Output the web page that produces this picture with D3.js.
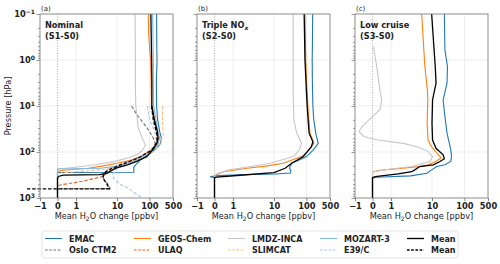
<!DOCTYPE html>
<html>
<head>
<meta charset="utf-8">
<script src="https://cdn.jsdelivr.net/npm/d3@7"></script>
<style>
body { margin: 0; background: #fff; }
text { font-family: "DejaVu Sans", sans-serif; fill: #222; }
.tickLabel { font-weight: bold; font-size: 8.3px; }
.axisTitle { font-size: 8.2px; }
.panelTitle { font-weight: bold; font-size: 8.2px; }
.legendText { font-weight: bold; font-size: 8px; }
</style>
</head>
<body>
<script>
// x axis ticks (ppbv) and pressure decades (hPa)
var xTicks = [-1, 0, 1, 10, 100, 500];
var xTickLabels = ["\u22121", "0", "1", "10", "100", "500"];
var pDecades = [0.1, 1, 10, 100, 1000];
var pExponents = ["\u22121", "0", "1", "2", "3"];

var models = ["EMAC", "Oslo CTM2", "GEOS-Chem", "ULAQ", "LMDZ-INCA", "SLIMCAT", "MOZART-3", "E39/C", "Mean", "Mean"];

// [pressure hPa, mean H2O change ppbv] -- S1-S0 nominal
var s1EMAC = [[0.1,163],[0.5,165],[1,168],[3,160],[10,163],[20,175],[35,200],[50,225],[65,215],[80,170],[100,120],[125,75],[150,52],[180,40],[215,33],[275,33],[278,0],[1000,0]];
var s1Oslo = [[10,28],[15,40],[22,60],[30,85],[40,110],[55,140],[70,150],[90,120],[120,60],[150,28],[190,12],[240,6],[300,4.5],[370,4.6],[480,5.8],[615,6.8],[630,6.8],[632,0]];
var s1GEOS = [[0.1,92],[0.3,95],[1,108],[3,112],[10,115],[20,135],[35,170],[50,190],[65,170],[90,120],[120,60],[150,28],[176,10],[205,4],[225,2],[240,0.8],[250,0.3],[265,0],[1000,0]];
var s1ULAQ = [[10,120],[20,140],[40,170],[60,160],[80,130],[100,90],[140,40],[190,15],[260,7],[350,4],[430,1.5],[520,0.15],[540,0]];
var s1LMDZ = [[0.1,36],[1,37],[5,37],[10,38],[30,45],[50,60],[70,75],[90,62],[110,45],[130,25],[160,9],[190,3],[215,1],[228,0.2],[235,0],[1000,0]];
var s1SLIMCAT = [[10,250],[20,240],[40,260],[60,220],[90,150],[130,70],[160,40],[200,16],[240,5],[265,1.2],[285,0.2],[300,0]];
var s1MOZART = [[0.1,124],[1,130],[3,130],[10,133],[30,170],[50,200],[70,175],[100,110],[150,40],[200,12],[225,4],[232,1],[235,0],[1000,0]];
var s1E39C = [[10,87],[20,100],[35,140],[50,160],[70,150],[100,100],[140,40],[180,18],[230,10],[300,8],[370,8.2],[500,12],[610,22],[850,42],[1000,62]];
var s1Mean = [[0.1,110],[1,116],[3,118],[10,118],[20,140],[35,170],[50,180],[65,165],[90,125],[126,82],[160,40],[190,21],[225,9.3],[290,5.6],[310,3.8],[318,0.3],[340,0.05],[370,0],[1000,0]];
var s1MeanDash = [[10,115],[20,130],[40,165],[60,170],[90,120],[130,50],[170,20],[220,8],[280,5],[370,4.5],[480,5.5],[615,6.5],[630,6.5],[632,-5.5]];

// S2-S0 triple NOx
var s2EMAC = [[0.1,153],[0.5,150],[1,148],[3,150],[10,155],[20,165],[40,190],[65,224],[90,160],[126,100],[150,60],[176,35],[220,30],[260,33],[287,32],[300,11],[312,1.3],[330,0.03],[345,-0.25],[360,0],[1000,0]];
var s2GEOS = [[0.1,90],[1,95],[5,105],[10,110],[20,118],[39,127],[65,167],[90,120],[126,71],[176,19],[200,7],[226,2.2],[268,0.48],[316,0.08],[330,0],[1000,0]];
var s2LMDZ = [[0.1,39],[1,39],[5,39],[10,40],[20,41],[39,50],[65,71],[90,60],[126,40],[176,8],[210,2.5],[245,0.8],[290,0.2],[320,0],[1000,0]];
var s2Mean = [[0.1,85],[1,90],[5,100],[10,105],[20,112],[39,120],[60,155],[77,140],[126,80],[176,35],[226,22],[282,10],[320,1.5],[350,0.1],[363,0],[1000,0]];

// S3-S0 low cruise
var s3EMAC = [[0.1,24],[0.6,25],[1.4,30],[3.2,29],[7.4,22],[17,25],[39,29],[90,38],[126,40],[161,38],[190,25],[207,14],[245,9.8],[290,7.5],[330,3],[355,0.2],[370,0],[1000,0]];
var s3GEOS = [[0.1,5.6],[1.4,6.7],[4.5,7.7],[7.4,7.9],[24,7.6],[55,8],[77,9.8],[105,14],[135,19],[161,13],[190,8],[207,5],[230,1.5],[250,0.4],[270,0.05],[280,0],[1000,0]];
var s3LMDZ = [[0.51,0.05],[1.4,0.23],[4.5,0.4],[7.4,0.5],[12,0.4],[20,-0.2],[28,-0.6],[36,-0.77],[46,-0.5],[55,0.3],[65,2],[80,5],[98,8],[126,10.4],[161,8.9],[207,3.2],[240,0.8],[268,0.05],[280,0],[1000,0]];
var s3Mean = [[0.1,9.8],[1.4,12.6],[3.2,13.3],[7.4,10.4],[24,10],[55,10.4],[83,13.3],[115,22],[140,24],[161,17.6],[190,11],[207,5],[245,3.8],[268,3.2],[300,1.5],[344,0.14],[360,0],[1000,0]];

// line styles per model (same order as models)
var colors = ["#1f77b4", "#707070", "#ff7f0e", "#e0601a", "#c7c7c7", "#ffbb78", "#82b6e0", "#aec7e8", "#000000", "#000000"];
var dashed = [false, true, false, true, false, true, false, true, false, true];

var panels = [
    { letter: "(a)", title: ["Nominal", "(S1-S0)"], series: [s1EMAC, s1Oslo, s1GEOS, s1ULAQ, s1LMDZ, s1SLIMCAT, s1MOZART, s1E39C, s1Mean, s1MeanDash] },
    { letter: "(b)", title: ["Triple NO", "(S2-S0)"], series: [s2EMAC, null, s2GEOS, null, s2LMDZ, null, null, null, s2Mean, null] },
    { letter: "(c)", title: ["Low cruise", "(S3-S0)"], series: [s3EMAC, null, s3GEOS, null, s3LMDZ, null, null, null, s3Mean, null] }
];

var svgWidth = 500, svgHeight = 264;
var panelLeft = [40, 197, 355];
var width = 133;
var plotTop = 14, plotBottom = 198;

var svg = d3.select("body").append("svg")
    .attr("width", svgWidth)
    .attr("height", svgHeight);

// symmetric log transform, then a polylinear scale through the tick positions
function symlog(v) {
    var a = Math.abs(v);
    return Math.sign(v) * (a <= 1 ? a : 1 + Math.log10(a));
}
var tickFrac = [0, 0.1316, 0.2707, 0.579, 0.823, 1];
var xScale = d3.scaleLinear()
    .domain(xTicks.map(symlog))
    .range(tickFrac.map(f => f * width));
var yScale = d3.scaleLog()
    .domain([1000, 0.1])
    .range([plotBottom - plotTop, 0]);
var height = plotBottom - plotTop;

var minorTicks = yScale.ticks().filter(t => pDecades.indexOf(t) < 0);

var line = d3.line()
    .x(d => xScale(symlog(d[1])))
    .y(d => yScale(d[0]));

panels.forEach(function(panel, pi) {
    var g = svg.append("g")
        .attr("transform", "translate(" + panelLeft[pi] + "," + plotTop + ")");

    // grid
    g.selectAll(".vgrid")
        .data([1, 10, 100])
        .enter().append("line")
        .attr("x1", d => xScale(symlog(d))).attr("x2", d => xScale(symlog(d)))
        .attr("y1", 0).attr("y2", height)
        .attr("stroke", "#ebebeb").attr("stroke-width", 0.8);
    g.selectAll(".hgrid")
        .data([1, 10, 100])
        .enter().append("line")
        .attr("x1", 0).attr("x2", width)
        .attr("y1", d => yScale(d)).attr("y2", d => yScale(d))
        .attr("stroke", "#ebebeb").attr("stroke-width", 0.8);
    g.append("line")
        .attr("x1", xScale(0)).attr("x2", xScale(0))
        .attr("y1", 0).attr("y2", height)
        .attr("stroke", "#999").attr("stroke-width", 0.8)
        .attr("stroke-dasharray", "1,1.6");

    // model lines
    panel.series.forEach(function(s, i) {
        if (!s) return;
        g.append("path")
            .datum(s)
            .attr("d", line)
            .attr("fill", "none")
            .attr("stroke", colors[i])
            .attr("stroke-width", i >= 8 ? 1.3 : 1.1)
            .attr("stroke-dasharray", dashed[i] ? "3.5,1.8" : null);
    });

    // frame
    g.append("rect")
        .attr("width", width).attr("height", height)
        .attr("fill", "none").attr("stroke", "#808080").attr("stroke-width", 0.9);

    // x axis
    var xAxis = d3.axisBottom(xScale)
        .tickValues(xTicks.map(symlog))
        .tickSize(3)
        .tickFormat((d, i) => xTickLabels[i]);
    var xg = g.append("g")
        .attr("transform", "translate(0," + height + ")")
        .call(xAxis);
    xg.select(".domain").remove();
    xg.selectAll("line").attr("stroke", "#808080");
    xg.selectAll("text").attr("class", "tickLabel").attr("dy", "0.75em").attr("y", 4.5);

    // y axis ticks
    var yMajor = g.append("g").call(d3.axisLeft(yScale).tickValues(pDecades).tickSize(3.5).tickFormat(""));
    var yMinor = g.append("g").call(d3.axisLeft(yScale).tickValues(minorTicks).tickSize(2).tickFormat(""));
    [yMajor, yMinor].forEach(function(a) {
        a.select(".domain").remove();
        a.selectAll("line").attr("stroke", "#808080").attr("stroke-width", 0.8);
    });

    if (pi === 0) {
        pDecades.forEach(function(p, k) {
            var t = g.append("text")
                .attr("class", "tickLabel")
                .attr("x", -5)
                .attr("y", yScale(p) + 3)
                .attr("text-anchor", "end");
            t.append("tspan").text("10");
            t.append("tspan").attr("dy", -3.5).attr("font-size", "6px").text(pExponents[k]);
        });
        g.append("text")
            .attr("class", "axisTitle")
            .attr("transform", "rotate(-90)")
            .attr("x", -height / 2)
            .attr("y", -29)
            .attr("text-anchor", "middle")
            .text("Pressure [hPa]");
    }

    // x title
    var xt = g.append("text")
        .attr("class", "axisTitle")
        .attr("x", width / 2)
        .attr("y", height + 21)
        .attr("text-anchor", "middle");
    xt.append("tspan").text("Mean H");
    xt.append("tspan").attr("font-size", "6px").attr("dy", 1.8).text("2");
    xt.append("tspan").attr("dy", -1.8).text("O change [ppbv]");

    // panel letter and title
    g.append("text")
        .attr("x", 1).attr("y", -3.5)
        .attr("font-size", "7px")
        .text(panel.letter);
    var t1 = g.append("text").attr("class", "panelTitle").attr("x", 5).attr("y", 14);
    t1.append("tspan").text(panel.title[0]);
    if (pi === 1) {
        t1.append("tspan").attr("font-size", "6px").attr("font-style", "italic").attr("dy", 1.8).text("x");
    }
    g.append("text").attr("class", "panelTitle").attr("x", 5).attr("y", 24.5).text(panel.title[1]);
});

// legend
var legend = svg.append("g");
legend.append("rect")
    .attr("x", 42).attr("y", 231).attr("width", 416).attr("height", 27)
    .attr("rx", 2).attr("fill", "#fff").attr("stroke", "#dcdcdc").attr("stroke-width", 0.8);
var colX = [45, 134, 228, 320, 407];
var rowY = [238.5, 250];
models.forEach(function(name, i) {
    var cx = colX[Math.floor(i / 2)], cy = rowY[i % 2];
    legend.append("line")
        .attr("x1", cx).attr("x2", cx + 17)
        .attr("y1", cy).attr("y2", cy)
        .attr("stroke", colors[i])
        .attr("stroke-width", i >= 8 ? 1.3 : 1.1)
        .attr("stroke-dasharray", dashed[i] ? "2.6,1.6" : null);
    legend.append("text")
        .attr("class", "legendText")
        .attr("x", cx + 24).attr("y", cy + 3)
        .text(name);
});
</script>
</body>
</html>
